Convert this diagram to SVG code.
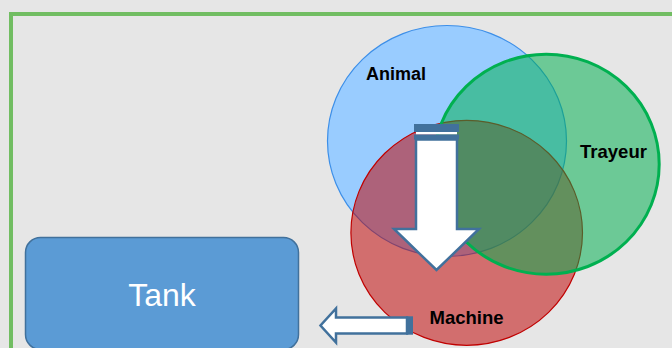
<svg xmlns="http://www.w3.org/2000/svg" width="672" height="348" viewBox="0 0 672 348">
<style>
.lbl{font-family:"Liberation Sans",Arial,sans-serif;font-weight:bold;font-size:18px;fill:#000;text-anchor:middle}
.arrow{fill:#fff;stroke:#41719c;stroke-width:2.5;stroke-linejoin:miter}
.stripe{fill:#41719c}
</style>
<rect x="0" y="0" width="672" height="348" fill="#e6e6e6"/>
<rect x="11" y="14" width="700" height="360" fill="none" stroke="#71bd62" stroke-width="4"/>
<g id="animal">
<ellipse cx="447" cy="141" rx="119.5" ry="115.5" fill="#99ccff" stroke="#3d8fe8" stroke-width="1.2"/>
</g>
<g id="machine">
<ellipse cx="466.7" cy="232.8" rx="115.8" ry="112.5" fill="#c00000" fill-opacity="0.52" stroke="#c00000" stroke-width="1.2"/>
</g>
<g id="trayeur">
<ellipse cx="546.2" cy="164.2" rx="113" ry="110" fill="#00b050" fill-opacity="0.53" stroke="#00b050" stroke-width="3"/>
</g>
<g id="labels">
<text class="lbl" x="396" y="80" font-size="17">Animal</text>
<text class="lbl" x="613.5" y="158" style="font-size:18.5px">Trayeur</text>
<text class="lbl" x="466.5" y="324" style="font-size:18.5px">Machine</text>
</g>
<g id="tank">
<rect x="25.5" y="237.5" width="273" height="112" rx="15" ry="15" fill="#5b9bd5" stroke="#41719c" stroke-width="1.5"/>
<text x="162" y="306" font-family="'Liberation Sans',Arial,sans-serif" font-size="32" fill="#fff" text-anchor="middle">Tank</text>
</g>
<g id="connectors">
<g id="arrow-down">
<rect class="stripe" x="414" y="124" width="45" height="8"/>
<rect x="416" y="132" width="41" height="2.5" fill="#fff"/>
<rect class="stripe" x="414" y="134.5" width="45" height="5"/>
<polygon class="arrow" points="416,139.5 457,139.5 457,229 479,229 436.5,270 394,229 416,229"/>
</g>
<g id="arrow-left">
<polygon class="arrow" points="407,317.5 336,317.5 336,308.5 320.5,325.5 336,342.5 336,333.5 407,333.5"/>
<rect class="stripe" x="406" y="316.3" width="7" height="18.4"/>
</g>
</g>
</svg>
